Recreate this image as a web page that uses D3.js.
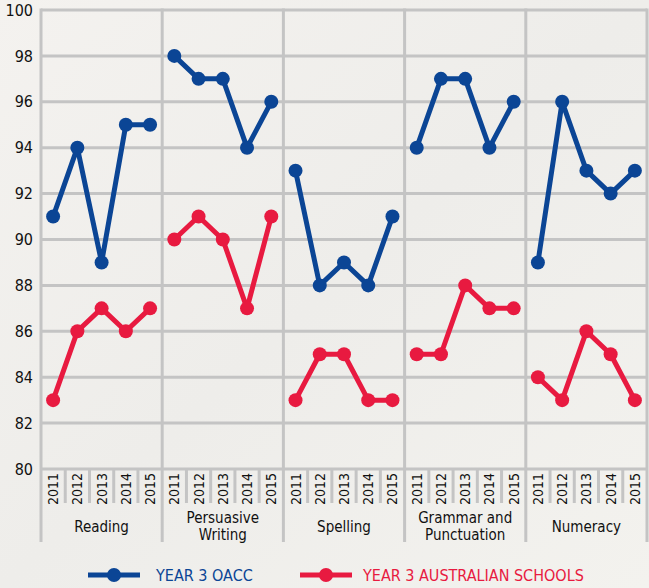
<!DOCTYPE html>
<html>
<head>
<meta charset="utf-8">
<script src="https://cdn.jsdelivr.net/npm/d3@7"></script>
<style>
body { margin:0; background:#f2f0ec; }
svg { display:block; }
text { font-family:"Liberation Sans Narrow","DejaVu Sans Condensed",sans-serif; fill:#111; }
.grid { stroke:#c4c4c4; stroke-width:3; }
</style>
</head>
<body>
<div id="chart"></div>
<script>
var categories = ["Reading", "Persuasive Writing", "Spelling", "Grammar and Punctuation", "Numeracy"];
var categoryLines = [["Reading"], ["Persuasive", "Writing"], ["Spelling"], ["Grammar and", "Punctuation"], ["Numeracy"]];
var years = ["2011", "2012", "2013", "2014", "2015"];
var yTicks = [80, 82, 84, 86, 88, 90, 92, 94, 96, 98, 100];

var oacc = [
    [91, 94, 89, 95, 95],
    [98, 97, 97, 94, 96],
    [93, 88, 89, 88, 91],
    [94, 97, 97, 94, 96],
    [89, 96, 93, 92, 93]
];
var australian = [
    [83, 86, 87, 86, 87],
    [90, 91, 90, 87, 91],
    [83, 85, 85, 83, 83],
    [85, 85, 88, 87, 87],
    [84, 83, 86, 85, 83]
];

var seriesNames = ["YEAR 3 OACC", "YEAR 3 AUSTRALIAN SCHOOLS"];
var colors = ["#0b4595", "#e81a40"];

var width = 649, height = 588;
var plotLeft = 41, plotRight = 647, plotTop = 10, plotBottom = 469;

var svg = d3.select("#chart").append("svg")
    .attr("width", width).attr("height", height);

// soft background
var defs = svg.append("defs");
var grad = defs.append("linearGradient").attr("id", "bg").attr("x1", 0).attr("x2", 1).attr("y1", 0).attr("y2", 1);
grad.append("stop").attr("offset", "0%").attr("stop-color", "#f4f2ef");
grad.append("stop").attr("offset", "50%").attr("stop-color", "#eeedea");
grad.append("stop").attr("offset", "100%").attr("stop-color", "#f3f2ee");
svg.append("rect").attr("width", width).attr("height", height).attr("fill", "url(#bg)");

var y = d3.scaleLinear().domain([80, 100]).range([plotBottom, plotTop]);
var xGroup = d3.scaleBand().domain(categories).range([plotLeft, plotRight]).padding(0);
var xYear = d3.scaleBand().domain(years).range([0, xGroup.bandwidth()]).padding(0);

// horizontal gridlines
svg.selectAll(".hgrid").data(yTicks).enter().append("line")
    .attr("class", "grid")
    .attr("x1", plotLeft).attr("x2", plotRight)
    .attr("y1", function (d) { return y(d); })
    .attr("y2", function (d) { return y(d); });

// group dividers
var dividers = categories.map(function (c) { return xGroup(c); }).concat([plotRight]);
svg.selectAll(".vgrid").data(dividers).enter().append("line")
    .attr("class", "grid")
    .attr("x1", function (d) { return d; }).attr("x2", function (d) { return d; })
    .attr("y1", plotTop - 1.5).attr("y2", 542);

// y axis labels
svg.selectAll(".ylab").data(yTicks).enter().append("text")
    .attr("x", 33).attr("y", function (d) { return y(d); })
    .attr("dy", "0.35em")
    .attr("text-anchor", "end")
    .style("font-size", "16px")
    .text(function (d) { return d; });

var groups = svg.selectAll(".cat").data(categories).enter().append("g")
    .attr("transform", function (d) { return "translate(" + xGroup(d) + ",0)"; });

// small separators between years
groups.selectAll(".ysep").data(years.slice(1)).enter().append("line")
    .attr("class", "grid")
    .attr("x1", function (d) { return xYear(d); }).attr("x2", function (d) { return xYear(d); })
    .attr("y1", plotBottom).attr("y2", 503);

// year labels
groups.selectAll(".yr").data(years).enter().append("text")
    .attr("transform", function (d) {
        return "translate(" + (xYear(d) + xYear.bandwidth() / 2 + 5) + "," + 489 + ") rotate(-90)";
    })
    .attr("text-anchor", "middle")
    .style("font-size", "14px")
    .text(function (d) { return d; });

// category labels
groups.each(function (d, i) {
    var lines = categoryLines[i];
    var g = d3.select(this);
    var startY = lines.length === 1 ? 532 : 523;
    lines.forEach(function (t, j) {
        g.append("text")
            .attr("x", xGroup.bandwidth() / 2)
            .attr("y", startY + j * 17)
            .attr("text-anchor", "middle")
            .style("font-size", "15px")
            .text(t);
    });
});

// lines and points
var line = d3.line()
    .x(function (d, i) { return xYear(years[i]) + xYear.bandwidth() / 2; })
    .y(function (d) { return y(d); });

[oacc, australian].forEach(function (series, s) {
    groups.append("path")
        .datum(function (d, i) { return series[i]; })
        .attr("d", line)
        .attr("fill", "none")
        .attr("stroke", colors[s])
        .attr("stroke-width", 5)
        .attr("stroke-linejoin", "round");
    groups.each(function (d, i) {
        d3.select(this).selectAll(".pt" + s).data(series[i]).enter().append("circle")
            .attr("cx", function (v, k) { return xYear(years[k]) + xYear.bandwidth() / 2; })
            .attr("cy", function (v) { return y(v); })
            .attr("r", 7)
            .attr("fill", colors[s]);
    });
});

// legend
var legendX = [88, 300];
seriesNames.forEach(function (name, s) {
    var lg = svg.append("g").attr("transform", "translate(" + legendX[s] + ",575)");
    lg.append("line").attr("x1", 0).attr("x2", 52).attr("y1", 0).attr("y2", 0)
        .attr("stroke", colors[s]).attr("stroke-width", 5);
    lg.append("circle").attr("cx", 26).attr("cy", 0).attr("r", 7).attr("fill", colors[s]);
    lg.append("text").attr("x", s === 0 ? 68 : 63).attr("y", 0).attr("dy", "0.35em")
        .style("font-size", "16px")
        .style("fill", colors[s])
        .text(name);
});
</script>
</body>
</html>
